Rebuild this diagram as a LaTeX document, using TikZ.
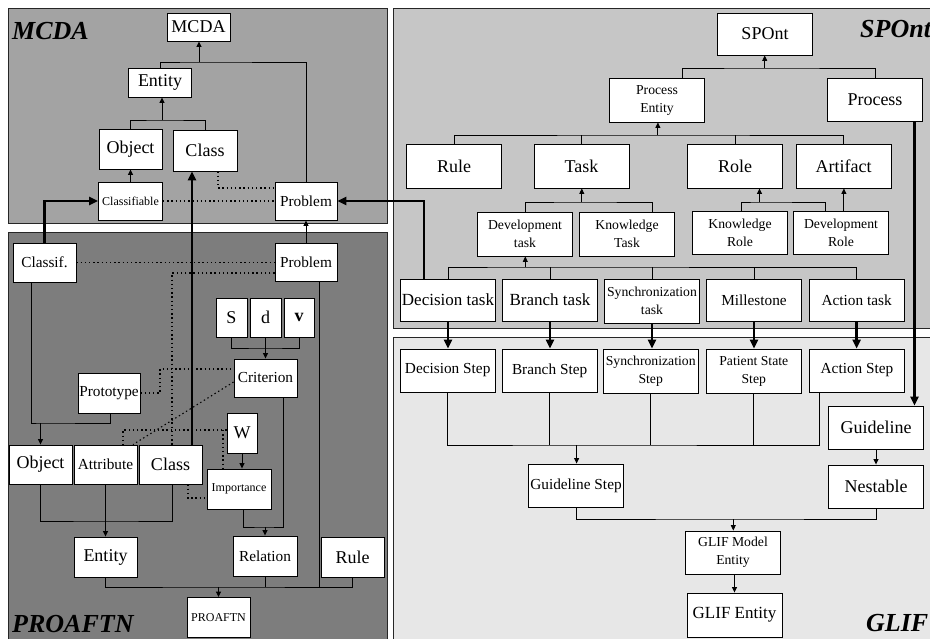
\documentclass[tikz,border=0pt]{standalone}
\usepackage{fontspec}
\setmainfont{Liberation Serif}
\usetikzlibrary{arrows.meta,positioning}
\definecolor{mcdagray}{gray}{0.64}
\definecolor{proaftngray}{gray}{0.49}
\definecolor{spontgray}{gray}{0.775}
\definecolor{glifgray}{gray}{0.905}
\tikzset{%
panel/.style={draw=black!85, line width=1pt},
bx/.style={draw=black, fill=white, line width=0.9pt, inner sep=0pt, align=center, minimum width=63, minimum height=39, font=\fontsize{15.3}{17}\selectfont},
wide/.style={minimum width=95, minimum height=43},
bigtxt/.style={font=\fontsize{18}{20}\selectfont},
smalltxt/.style={font=\fontsize{13.7}{18}\selectfont},
tinytxt/.style={font=\fontsize{12}{14}\selectfont},
ln/.style={draw=black, line width=0.9pt},
pt/.style={ln, -{Triangle[length=5.5pt,width=5pt]}},
heavy/.style={draw=black, line width=2.4pt, -{Triangle[length=9pt,width=8pt]}},
dotline/.style={draw=black, line width=1.1pt, dash pattern=on 1.4pt off 2.8pt},
title/.style={font=\fontsize{26}{26}\selectfont\bfseries\itshape, anchor=base west, inner sep=0pt}
}
\begin{document}
\begin{tikzpicture}[x=1pt, y=-1pt]
	\useasboundingbox (0,0) rectangle (930,638);
	\draw[panel, fill=mcdagray] (8,8) rectangle (387.5,223);
	\draw[panel, fill=proaftngray] (8,232) rectangle (387.5,660);
	\draw[panel, fill=spontgray] (393.5,8) rectangle (950,328);
	\draw[panel, fill=glifgray] (393.5,337) rectangle (950,660);

	\node[title] (lmcda) at (12,39) {MCDA};
	\node[title] (lproaftn) at (12,632) {PROAFTN};
	\node[title] (lspont) at (860,37) {SPOnt};
	\node[title] (lglif) at (866,631) {GLIF};

	\node[bx,bigtxt,minimum height=28] (mmcda) at (198.5,27) {MCDA};
	\node[bx,bigtxt,minimum height=29] (mentity) at (160,82.5) {Entity};
	\node[bx,bigtxt,minimum height=40] (mobject) at (130.5,149) {Object};
	\node[bx,bigtxt,minimum width=64,minimum height=41] (mclass) at (205,150.5) {Class};
	\node[bx,tinytxt,minimum width=64,minimum height=38] (mclassifiable) at (130.5,201) {Classifiable};
	\node[bx,minimum width=62,minimum height=38] (mproblem) at (306,201) {Problem};

	\node[bx] (pclassif) at (44.5,262.5) {Classif.};
	\node[bx,minimum width=62,minimum height=38] (pproblem) at (306,262.5) {Problem};
	\node[bx,bigtxt,minimum width=31] (ps) at (231.5,317.5) {S};
	\node[bx,bigtxt,minimum width=31] (pd) at (265.5,317.5) {d};
	\node[bx,bigtxt,minimum width=30] (pv) at (299,317.5) {\textbf{v}};
	\node[bx,minimum height=38] (pcriterion) at (265.5,378) {Criterion};
	\node[bx,minimum width=62,minimum height=40] (pprototype) at (109,393) {Prototype};
	\node[bx,bigtxt,minimum width=30,minimum height=40] (pw) at (242,433) {W};
	\node[bx,bigtxt] (pobject) at (40.5,464.5) {Object};
	\node[bx] (pattribute) at (105.5,464.5) {Attribute};
	\node[bx,bigtxt] (pclass) at (170.5,464.5) {Class};
	\node[bx,tinytxt,minimum width=64,minimum height=40] (pimportance) at (239,489) {Importance};
	\node[bx,bigtxt,minimum height=40] (pentity) at (105.5,557) {Entity};
	\node[bx,minimum width=64,minimum height=40] (prelation) at (265,556) {Relation};
	\node[bx,bigtxt,minimum height=40] (prule) at (352.5,557) {Rule};
	\node[bx,tinytxt,minimum height=40] (pproaftn) at (218.5,617.5) {PROAFTN};

	\node[bx,wide,bigtxt,minimum height=42] (sspont) at (765,34) {SPOnt};
	\node[bx,wide,smalltxt,minimum height=44] (spentity) at (657,100) {Process\\Entity};
	\node[bx,wide,bigtxt] (sprocess) at (875,99.5) {Process};
	\node[bx,wide,bigtxt,minimum height=44] (srule) at (454,166) {Rule};
	\node[bx,wide,bigtxt,minimum height=44] (stask) at (581.6,166) {Task};
	\node[bx,wide,bigtxt,minimum height=44] (srole) at (735,166) {Role};
	\node[bx,wide,bigtxt,minimum height=44] (sartifact) at (843.7,166) {Artifact};
	\node[bx,wide,smalltxt,minimum height=44] (sdevtask) at (525,234) {Development\\task};
	\node[bx,wide,smalltxt,minimum height=44] (sknowtask) at (627,234) {Knowledge\\Task};
	\node[bx,wide,smalltxt] (sknowrole) at (740,232.5) {Knowledge\\Role};
	\node[bx,wide,smalltxt] (sdevrole) at (841,232.5) {Development\\Role};
	\node[bx,wide,minimum height=42,font=\fontsize{17}{19}\selectfont] (sdecision) at (448,300) {Decision task};
	\node[bx,wide,minimum height=42,font=\fontsize{17}{19}\selectfont] (sbranch) at (550,300) {Branch task};
	\node[bx,wide,smalltxt,minimum height=44] (ssync) at (652,301) {Synchronization\\task};
	\node[bx,wide,minimum height=42] (smilestone) at (754,300) {Millestone};
	\node[bx,wide,minimum height=42] (saction) at (856.6,300) {Action task};

	\node[bx,wide] (gdecision) at (447.7,370.5) {Decision Step};
	\node[bx,wide] (gbranch) at (549.6,370.5) {Branch Step};
	\node[bx,wide,smalltxt,minimum height=44] (gsync) at (650.7,371) {Synchronization\\Step};
	\node[bx,wide,smalltxt,minimum height=44] (gpatient) at (753.8,371) {Patient State\\Step};
	\node[bx,wide] (gaction) at (857,370.5) {Action Step};
	\node[bx,wide,bigtxt] (gguideline) at (876,427.5) {Guideline};
	\node[bx,wide,bigtxt] (gnestable) at (876,486.5) {Nestable};
	\node[bx,wide] (gguidestep) at (576,485.5) {Guideline Step};
	\node[bx,wide,smalltxt] (gmodel) at (733,552.5) {GLIF Model\\Entity};
	\node[bx,wide,minimum height=44,font=\fontsize{17}{19}\selectfont] (gentity) at (734.5,615) {GLIF Entity};

	\coordinate (jmcda) at (199,62);
	\coordinate (jment) at (162,120);
	\draw[ln] (mentity.north) |- (jmcda) -| (mproblem.north);
	\draw[pt] (jmcda) -- (jmcda |- mmcda.south);
	\draw[ln] (mobject.north) |- (jment) -| (mclass.north);
	\draw[pt] (jment) -- (jment |- mentity.south);
	\path[pt] (mclassifiable) edge (mobject);
	\draw[dotline] (mclassifiable.east) -- (mproblem.west);
	\draw[dotline] (mclass.south -| 218,0) |- (mproblem.west |- 0,188);

	\coordinate (jcrit) at (265.5,348);
	\coordinate (jobj) at (40.5,423);
	\coordinate (jpent) at (105.5,521);
	\coordinate (jrel) at (265,527);
	\coordinate (jpro) at (218.5,587);
	\draw[ln] (ps.south) |- (jcrit) -| (pv.south);
	\path[pt] (pd) edge (pcriterion);
	\draw[ln] (pclassif.south -| 31,0) |- (jobj) -| (pprototype.south -| 110,0);
	\draw[pt] (jobj) -- (pobject.north);
	\draw[ln] (pobject.south) |- (jpent) -| (pclass.south -| 172,0);
	\path[pt] (pattribute) edge (pentity);
	\draw[pt] (pw.south) -- (pw.south |- pimportance.north);
	\draw[ln] (pimportance.south -| 243,0) |- (jrel) -| (pcriterion.south -| 283,0);
	\draw[pt] (jrel) -- (prelation.north);
	\draw[ln] (pentity.south) |- (jpro) -| (prule.south);
	\draw[ln] (prelation.south) -- (prelation.south |- jpro);
	\draw[ln] (pproblem.south -| 319,0) -- (jpro -| 319,0);
	\draw[pt] (jpro) -- (pproaftn.north);
	\path[pt] (pproblem) edge (mproblem);

	\draw[dotline] (pclassif.east) -- (pproblem.west);
	\draw[dotline] (pproblem.west |- 0,273) -| (pclass.north -| 172,0);
	\draw[dotline] (pprototype.east) -| (160,369) -- (pcriterion.west |- 0,369);
	\draw[dotline] (pcriterion.west |- 0,382) -- (pattribute.north -| 133,0);
	\draw[dotline] (pw.west |- 0,430) -| (pattribute.north -| 123,0);
	\draw[dotline] (223,430) -- (pimportance.north -| 223,0);
	\draw[dotline] (pclass.south -| 188,0) |- (pimportance.west |- 0,498);

	\draw[heavy] (pclassif.north) |- (mclassifiable.west);
	\draw[heavy] (pclass.north -| 192,0) -- (mclass.south -| 192,0);
	\draw[heavy] (sdecision.north -| 424,0) |- (mproblem.east);

	\coordinate (jspont) at (764.7,68);
	\coordinate (jpe) at (657.9,135);
	\coordinate (jtask) at (581.8,202);
	\coordinate (jrole) at (759.5,202);
	\coordinate (jdev) at (525.3,267);
	\draw[ln] (spentity.north -| 682.7,0) |- (jspont) -| (sprocess.north);
	\draw[pt] (jspont) -- (jspont |- sspont.south);
	\draw[ln] (srule.north) |- (jpe) -| (sartifact.north);
	\draw[ln] (stask.north) -- (stask.north |- jpe);
	\draw[ln] (srole.north) -- (srole.north |- jpe);
	\draw[pt] (jpe) -- (jpe |- spentity.south);
	\draw[ln] (sdevtask.north) |- (jtask) -| (sknowtask.north -| 652.7,0);
	\draw[pt] (jtask) -- (jtask |- stask.south);
	\draw[ln] (sknowrole.north -| 741.2,0) |- (jrole) -| (sdevrole.north -| 825.6,0);
	\draw[pt] (jrole) -- (jrole |- srole.south);
	\draw[pt] (sdevrole.north -| 843.9,0) -- (sartifact.south -| 843.9,0);
	\draw[ln] (sdecision.north) |- (jdev) -| (saction.north);
	\draw[ln] (sbranch.north) -- (sbranch.north |- jdev);
	\draw[ln] (ssync.north) -- (ssync.north |- jdev);
	\draw[ln] (smilestone.north) -- (smilestone.north |- jdev);
	\draw[pt] (jdev) -- (jdev |- sdevtask.south);

	\draw[heavy] (sdecision.south) -- (sdecision.south |- gdecision.north);
	\draw[heavy] (sbranch.south) -- (sbranch.south |- gbranch.north);
	\draw[heavy] (ssync.south) -- (ssync.south |- gsync.north);
	\draw[heavy] (smilestone.south) -- (smilestone.south |- gpatient.north);
	\draw[heavy] (saction.south) -- (saction.south |- gaction.north);
	\draw[heavy] (sprocess.south -| 914.5,0) -- (gguideline.north -| 914.5,0);

	\coordinate (jgs) at (576.6,445);
	\coordinate (jgme) at (733.3,519);
	\draw[ln] (gdecision.south) |- (jgs) -| (gaction.south -| 819.4,0);
	\draw[ln] (gbranch.south) -- (gbranch.south |- jgs);
	\draw[ln] (gsync.south) -- (gsync.south |- jgs);
	\draw[ln] (gpatient.south) -- (gpatient.south |- jgs);
	\draw[pt] (jgs) -- (jgs |- gguidestep.north);
	\path[pt] (gguideline) edge (gnestable);
	\draw[ln] (gguidestep.south) |- (jgme) -| (gnestable.south);
	\draw[pt] (jgme) -- (jgme |- gmodel.north);
	\draw[pt] (gmodel.south -| 734.5,0) -- (gentity.north);
\end{tikzpicture}
\end{document}
